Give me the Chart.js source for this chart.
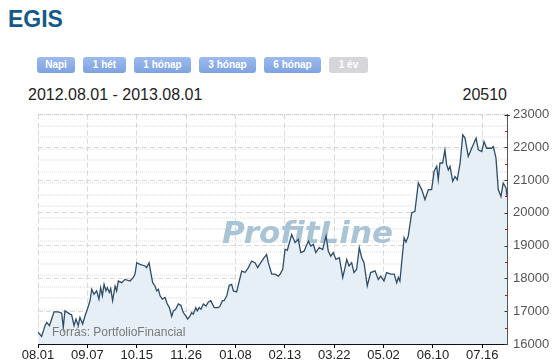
<!DOCTYPE html>
<html><head><meta charset="utf-8">
<script src="https://cdn.jsdelivr.net/npm/chart.js@4"></script>
<style>
html,body{margin:0;padding:0;width:557px;height:364px;overflow:hidden;background:#fff;font-family:"Liberation Sans",Arial,sans-serif;}
.abs{position:absolute;white-space:nowrap;}
#title{left:8px;top:7.5px;font-weight:bold;font-size:23px;line-height:23px;color:#15598b;}
.btn{position:absolute;top:57px;height:16px;line-height:16px;font-size:10px;font-weight:bold;color:#fff;text-align:center;border-radius:3px;background:linear-gradient(#9dbbec,#7ea3e0);}
.btn.off{background:#d6d6da;}
#range{left:28px;top:87px;font-size:16px;line-height:16px;color:#222;}
#last{right:50px;top:87px;font-size:16px;line-height:16px;color:#222;}
#wrap{position:absolute;left:0;top:100px;width:557px;height:264px;}
</style></head>
<body>
<div id="title" class="abs">EGIS</div>
<div class="btn" style="left:37px;width:38px">Napi</div>
<div class="btn" style="left:83px;width:43px">1 hét</div>
<div class="btn" style="left:134px;width:57px">1 hónap</div>
<div class="btn" style="left:199px;width:57px">3 hónap</div>
<div class="btn" style="left:264px;width:57px">6 hónap</div>
<div class="btn off" style="left:329px;width:39px">1 év</div>
<div id="range" class="abs">2012.08.01 - 2013.08.01</div>
<div id="last" class="abs">20510</div>
<div id="wrap"><canvas id="c"></canvas></div>
<script>
const xTickLabels = ['08.01','09.07','10.15','11.26','01.08','02.13','03.22','05.02','06.10','07.16'];
const xTickStep = 26;
const xMax = 247;
const yTicks = [16000,17000,18000,19000,20000,21000,22000,23000];
const dayIndex = [0,1.9,3.7,4.6,6.0,7.2,8.4,10.7,12.5,13.3,
14.2,16.9,17.7,19.0,20.0,21.2,22.1,23.5,24.8,26.0,
27.4,28.3,29.5,30.9,32.1,33.0,33.9,34.8,35.8,36.5,
37.6,38.3,39.3,40.6,41.4,42.3,44.1,45.8,48.5,50.2,
51.1,52.0,53.7,56.4,57.2,58.5,59.4,60.4,61.6,62.5,
63.4,64.3,65.5,66.9,68.1,69.2,70.4,71.3,72.5,73.9,
75.2,76.5,77.8,78.8,80.1,80.9,81.8,83.1,83.9,84.9,
85.8,87.1,88.5,89.7,91.0,92.8,95.0,95.9,97.1,98.0,
99.4,100.7,102.0,102.9,104.6,106.0,107.3,109.0,110.8,112.5,
114.3,115.7,117.3,119.0,120.4,121.3,123.1,124.8,126.6,127.5,
128.9,130.1,131.3,133.6,135.4,137.1,138.4,140.1,142.4,143.6,
145.0,146.3,148.1,149.9,151.7,152.9,154.2,155.5,156.9,158.7,
160.5,161.7,162.6,163.8,165.2,166.4,167.8,169.2,170.5,171.7,
173.4,175.2,177.5,179.2,180.5,182.2,183.6,185.8,187.6,188.9,
189.8,190.6,192.8,193.8,195.0,196.8,198.5,200.3,202.1,203.8,
205.6,207.3,208.6,210.0,210.8,211.7,213.1,214.3,215.2,216.1,
217.0,218.4,219.6,220.8,222.3,223.7,224.9,226.6,228.4,230.7,
231.9,233.7,234.9,236.3,238.9,239.8,241.2,242.4,243.8,245.0,246.5,247.0];
const price = [16360,16230,16560,16660,16560,16760,16980,16980,16940,16510,
17010,16910,16890,16560,16760,16560,16810,16610,16860,17060,
17320,17670,17520,17620,17370,17720,17470,17820,17620,17720,
17570,17690,17320,17770,17620,17920,17870,17970,17920,18030,
18130,18480,18430,18380,18330,18480,18180,17870,17770,17620,
17670,17470,17370,17420,17220,17110,16840,17010,17060,17220,
17180,16960,16860,16760,16860,16960,16910,17110,17010,17110,
17060,17220,17160,17280,17320,17110,17110,17160,17320,17320,
17470,17790,17820,17620,17590,17920,18230,18180,18330,18530,
18480,18330,18480,18630,18730,18480,18130,18130,18070,18130,
18280,18890,18860,19340,19090,19190,18790,18830,19140,18990,
19040,18790,18940,18880,19290,18830,18680,18790,18580,18630,
18030,18330,18580,18380,18480,18180,18280,18940,18630,18480,
17770,18180,18230,17970,18070,17920,18180,18130,18130,17870,
18030,17920,19240,19110,19290,20000,20050,20910,20710,20400,
20710,20710,21260,21420,21010,21520,21520,21920,21470,21310,
21420,20960,21110,21010,21520,22380,22280,21720,21970,22280,
21920,21870,22170,21970,21970,22020,21670,20710,20500,20910,20760,20510];

const points = dayIndex.map((d,i)=>({x:d,y:price[i]}));

const decor = {
  id:'decor',
  beforeDatasetsDraw(chart){
    const {ctx, chartArea:a} = chart;
    ctx.save();
    ctx.font = 'italic bold 31px "DejaVu Sans"';
    ctx.fillStyle = '#a9c4d4';
    ctx.textBaseline = 'alphabetic';
    ctx.fillText('ProfitLine', a.left + 184, a.top + 128);
    ctx.restore();
  },
  afterDatasetsDraw(chart){
    const {ctx, chartArea:a} = chart;
    ctx.save();
    ctx.font = '12px "Liberation Sans", Arial';
    ctx.fillStyle = '#7a7a7a';
    ctx.textBaseline = 'alphabetic';
    ctx.fillText('Forrás: PortfolioFinancial', a.left + 14, a.bottom - 8);
    ctx.restore();
  },
  afterDraw(chart){
    const {ctx} = chart;
    const ys = chart.scales.y;
    const x = ys.left;
    ctx.save();
    yTicks.forEach(v=>{
      const y = Math.round(ys.getPixelForValue(v)) + 0.5;
      ctx.strokeStyle = '#333';
      ctx.lineWidth = 1;
      ctx.beginPath(); ctx.moveTo(x-2.5, y); ctx.lineTo(v===23000? x+3 : x, y); ctx.stroke();
      if (v < 23000) {
        const y2 = Math.round(ys.getPixelForValue(v+500)) + 0.5;
        ctx.strokeStyle = '#e00000';
        ctx.beginPath(); ctx.moveTo(x-2, y2); ctx.lineTo(x, y2); ctx.stroke();
      }
    });
    ctx.restore();
  }
};

new Chart(document.getElementById('c'), {
  type:'line',
  data:{datasets:[{
    data:points,
    borderColor:'#2f4d66',
    borderWidth:1.3,
    backgroundColor:'#e6eef6',
    fill:'start',
    pointRadius:0,
    tension:0
  }]},
  options:{
    responsive:true,
    maintainAspectRatio:false,
    animation:false,
    events:[],
    layout:{padding:{left:38,top:14.5,right:0,bottom:0}},
    plugins:{legend:{display:false},tooltip:{enabled:false}},
    scales:{
      x:{
        type:'linear',
        min:0, max:xMax,
        afterBuildTicks(s){ s.ticks = xTickLabels.map((_,i)=>({value:i*xTickStep})); },
        afterFit(s){ s.height = 20; },
        ticks:{autoSkip:false,maxRotation:0,padding:0,color:'#222',font:{family:'"Liberation Sans", Arial',size:13},
          callback:(v,i)=>xTickLabels[i]},
        grid:{color:'#d9d9d9',lineWidth:1,tickLength:4,tickColor:'#000',tickBorderDash:[],drawTicks:true},
        border:{display:true,color:'#111',width:1,dash:[5,3]}
      },
      y:{
        position:'right',
        min:16000,max:23000,
        afterBuildTicks(s){ s.ticks = yTicks.map(v=>({value:v})); },
        afterFit(s){ s.width = 50; },
        ticks:{padding:6,color:'#555',font:{family:'"Liberation Sans", Arial',size:13},
          callback:(v)=>String(v)},
        grid:{color:'#d9d9d9',lineWidth:1,drawTicks:false},
        border:{display:true,color:'#555',width:1,dash:[5,3]}
      },
      y2:{
        position:'left',
        min:0,max:20,
        afterBuildTicks(s){ const t=[]; for(let i=0;i<=20;i++) t.push({value:i}); s.ticks=t; },
        afterFit(s){ s.width = 0; },
        ticks:{display:false},
        grid:{color:'rgba(0,0,0,0.07)',lineWidth:2,drawTicks:false},
        border:{display:false,dash:[1,1]}
      }
    }
  },
  plugins:[decor]
});
</script>
</body></html>
